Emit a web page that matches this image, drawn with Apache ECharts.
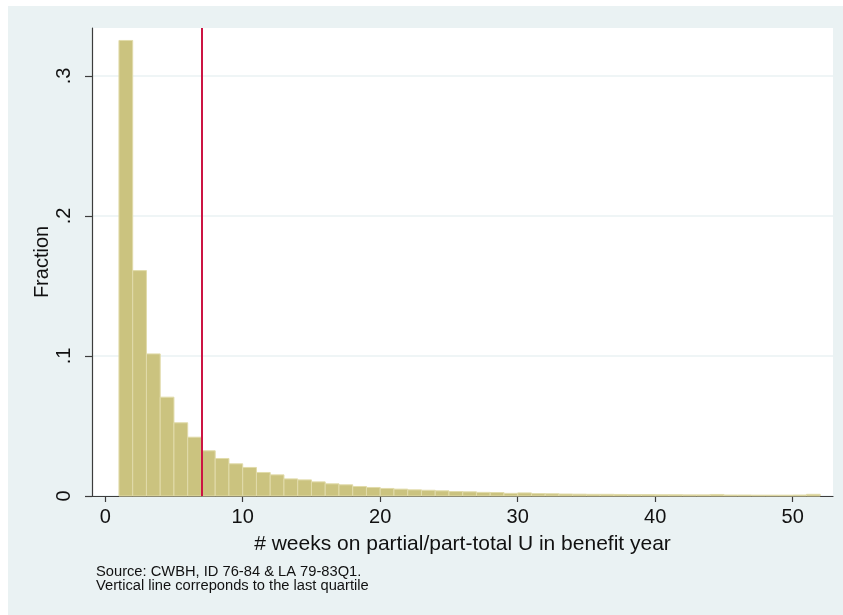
<!DOCTYPE html>
<html>
<head>
<meta charset="utf-8">
<script src="https://cdn.jsdelivr.net/npm/echarts@6/dist/echarts.min.js"></script>
<style>
  html, body { margin: 0; padding: 0; background: #ffffff; }
  #chart { width: 843px; height: 615px; }
</style>
</head>
<body>
<div id="chart"></div>
<script>
// Histogram of weeks on partial / part-total unemployment in the benefit year
const binStart = [1, 2, 3, 4, 5, 6, 7, 8, 9, 10, 11, 12, 13, 14, 15, 16, 17, 18, 19, 20,
  21, 22, 23, 24, 25, 26, 27, 28, 29, 30, 31, 32, 33, 34, 35, 36, 37, 38, 39, 40,
  41, 42, 43, 44, 45, 46, 47, 48, 49, 50, 51];
const binWidth = 1;
const fraction = [0.3254, 0.161, 0.1015, 0.0706, 0.0523, 0.042, 0.0323, 0.0268, 0.023, 0.0204,
  0.0168, 0.0151, 0.0122, 0.0115, 0.0101, 0.0087, 0.008, 0.0068, 0.0061, 0.0054,
  0.0049, 0.0044, 0.0041, 0.0037, 0.0032, 0.003, 0.0026, 0.0025, 0.0019, 0.0022,
  0.0017, 0.0016, 0.0014, 0.0013, 0.0012, 0.0012, 0.0011, 0.001, 0.001, 0.0009,
  0.0009, 0.0008, 0.0008, 0.0011, 0.0007, 0.0007, 0.0006, 0.0006, 0.0006, 0.0007,
  0.0012];
const xTicks = [0, 10, 20, 30, 40, 50];
const yTicks = [0, 0.1, 0.2, 0.3];
const lastQuartile = 7;

const xTitle = '# weeks on partial/part-total U in benefit year';
const yTitle = 'Fraction';
const noteLines = ['Source: CWBH, ID 76-84 & LA 79-83Q1.', 'Vertical line correponds to the last quartile'];

const histData = binStart.map((s, i) => [s, s + binWidth, fraction[i]]);

const chart = echarts.init(document.getElementById('chart'), null, { renderer: 'canvas' });

const font = 'Liberation Sans, Arial, Helvetica, sans-serif';
const axisColor = '#3c3c3c';

chart.setOption({
  animation: false,
  backgroundColor: '#ffffff',
  graphic: [
    {
      type: 'rect', z: -10, silent: true,
      shape: { x: 8, y: 6, width: 835, height: 609 },
      style: { fill: '#eaf2f3' }
    },
    {
      type: 'rect', z: -9, silent: true,
      shape: { x: 92, y: 28, width: 741, height: 468 },
      style: { fill: '#ffffff' }
    },
    {
      type: 'text', left: 96, top: 564, silent: true,
      style: { text: noteLines.join('\n'), fill: '#111', font: '14.7px ' + font, lineHeight: 14.5 }
    }
  ],
  grid: { left: 92, top: 28, width: 741, height: 468, containLabel: false },
  xAxis: {
    type: 'value',
    min: -0.96, max: 52.93,
    name: xTitle,
    nameLocation: 'middle',
    nameGap: 38,
    nameMoveOverlap: false,
    nameTextStyle: { fontFamily: font, fontSize: 21, color: '#111' },
    axisLine: { show: true, onZero: false, lineStyle: { color: axisColor, width: 1.2 } },
    axisTick: { show: true, customValues: xTicks, length: 6, lineStyle: { color: axisColor, width: 1.2 } },
    axisLabel: { customValues: xTicks, fontFamily: font, fontSize: 20, color: '#111', margin: 11 },
    splitLine: { show: false }
  },
  yAxis: {
    type: 'value',
    min: 0, max: 0.3343,
    name: yTitle,
    nameLocation: 'middle',
    nameRotate: 90,
    nameGap: 40,
    nameMoveOverlap: false,
    nameTextStyle: { fontFamily: font, fontSize: 20, color: '#111' },
    axisLine: { show: true, onZero: false, lineStyle: { color: axisColor, width: 1.2 } },
    axisTick: { show: true, customValues: yTicks, length: 7, lineStyle: { color: axisColor, width: 1.2 } },
    axisLabel: {
      customValues: yTicks, rotate: 90, fontFamily: font, fontSize: 20, color: '#111', margin: 18,
      formatter: v => v === 0 ? '0' : String(Math.round(v * 10) / 10).replace(/^0/, '')
    },
    splitLine: { show: true, lineStyle: { color: '#eaf2f3', width: 1.5 } }
  },
  series: [
    {
      type: 'custom',
      z: 3,
      renderItem: (params, api) => {
        const p0 = api.coord([api.value(0), api.value(2)]);
        const p1 = api.coord([api.value(1), 0]);
        return {
          type: 'rect',
          shape: { x: p0[0], y: p0[1], width: p1[0] - p0[0], height: p1[1] - p0[1] },
          style: { fill: '#cbc37f', stroke: '#e1dbaa', lineWidth: 1 }
        };
      },
      encode: { x: [0, 1], y: 2 },
      data: histData
    },
    {
      type: 'line',
      z: 2,
      data: [],
      markLine: {
        silent: true,
        symbol: 'none',
        label: { show: false },
        lineStyle: { color: '#cc1443', width: 2, type: 'solid' },
        data: [{ xAxis: lastQuartile }]
      }
    }
  ]
});
</script>
</body>
</html>
